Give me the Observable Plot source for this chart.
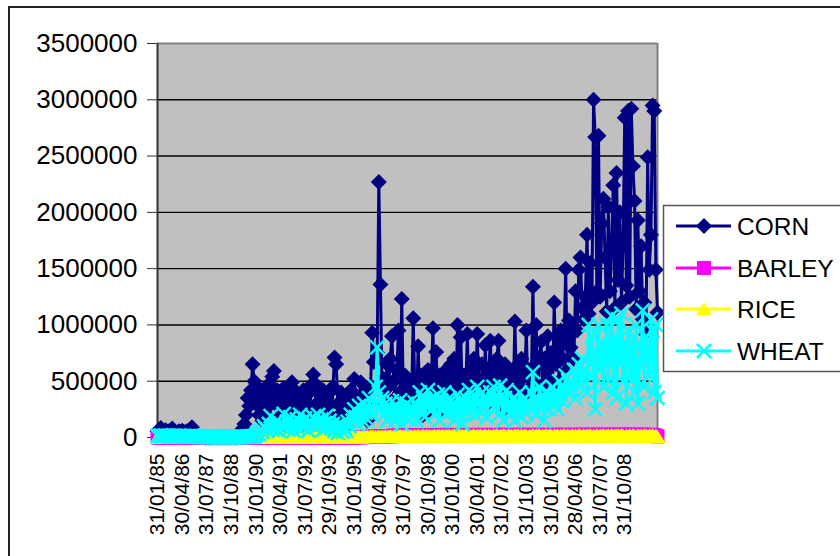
<!DOCTYPE html>
<html><head><meta charset="utf-8">
<script src="https://cdn.jsdelivr.net/npm/d3@7"></script>
<script src="https://cdn.jsdelivr.net/npm/@observablehq/plot@0.6"></script>
<style>
body{margin:0;background:#fff;}
#chart{position:relative;width:840px;height:556px;overflow:hidden;font-family:"Liberation Sans",Arial,sans-serif;}
#chart svg{position:absolute;left:0;top:0;}
</style></head><body><div id="chart"></div>
<script>
// Monthly observations, Jan 1985 (index 0) to Jun 2010 (index 305)
const tickLabels = ["31/01/85","30/04/86","31/07/87","31/10/88","31/01/90","30/04/91","31/07/92","29/10/93","31/01/95","30/04/96","31/07/97","30/10/98","31/01/00","30/04/01","31/07/02","31/10/03","31/01/05","28/04/06","31/07/07","31/10/08"];
const seriesNames = ["CORN","BARLEY","RICE","WHEAT"];
const yTickValues = [0,500000,1000000,1500000,2000000,2500000,3000000,3500000];

const CORN = [
55000,60000,85000,50000,40000,65000,45000,55000,60000,80000,50000,45000,
40000,55000,45000,60000,50000,45000,55000,60000,50000,90000,45000,30000,
15000,8000,5000,3000,2000,0,0,0,0,0,0,0,
0,0,0,0,0,0,0,0,0,0,0,0,
0,0,10000,30000,80000,120000,200000,350000,280000,420000,650000,500000,
300000,450000,200000,380000,150000,420000,250000,460000,180000,350000,540000,590000,
300000,420000,180000,380000,250000,440000,200000,300000,380000,260000,490000,350000,
200000,400000,150000,350000,280000,420000,180000,300000,390000,250000,470000,560000,
480000,300000,150000,380000,220000,420000,160000,350000,280000,400000,180000,450000,
710000,650000,300000,200000,400000,150000,350000,100000,300000,250000,420000,180000,
520000,300000,200000,350000,490000,250000,180000,400000,150000,300000,450000,930000,
670000,680000,750000,2270000,1360000,400000,520000,300000,650000,450000,700000,900000,
500000,350000,600000,950000,400000,1230000,300000,550000,450000,250000,500000,350000,
1060000,400000,250000,810000,350000,550000,200000,450000,300000,600000,250000,500000,
970000,400000,760000,300000,550000,250000,450000,350000,600000,300000,500000,650000,
400000,700000,300000,1000000,450000,890000,300000,550000,400000,920000,300000,600000,
450000,700000,350000,920000,500000,300000,650000,400000,820000,300000,550000,860000,
450000,600000,300000,700000,860000,350000,550000,250000,650000,400000,600000,350000,
500000,350000,1030000,450000,650000,300000,700000,400000,550000,950000,350000,600000,
450000,1340000,500000,1000000,400000,710000,850000,350000,700000,450000,900000,500000,
750000,450000,1200000,650000,900000,500000,950000,700000,850000,1500000,600000,1040000,
800000,1000000,700000,1300000,950000,1490000,1600000,1150000,1050000,1250000,1800000,1100000,
1550000,1200000,3000000,2670000,1300000,2680000,1250000,1900000,2120000,1600000,1120000,2050000,
1300000,1700000,2240000,1150000,2350000,1400000,2000000,1200000,1700000,2840000,1350000,2900000,
1250000,2920000,2410000,2100000,1140000,1930000,1300000,1700000,1050000,1200000,920000,2490000,
1490000,1800000,2950000,2900000,1490000,1110000
];

const BARLEY = [
0,0,0,0,0,0,0,0,0,0,0,0,
0,0,0,0,0,0,0,0,0,0,0,0,
0,0,0,0,0,0,0,0,0,0,0,0,
0,0,0,0,0,0,0,0,0,0,0,0,
0,0,0,0,0,0,0,0,0,0,0,0,
0,0,0,0,0,0,0,0,0,0,0,0,
0,0,0,0,0,0,0,0,0,0,0,0,
0,0,0,0,0,0,0,0,0,0,0,0,
0,0,0,0,0,0,0,0,0,0,0,0,
0,0,0,0,0,0,0,0,0,0,0,0,
2000,3000,1000,4000,3000,5000,3000,4000,6000,4000,5000,7000,
6000,8000,7000,10000,8000,11000,9000,12000,10000,13000,11000,14000,
15000,18000,13000,19000,16000,20000,14000,18000,17000,20000,15000,19000,
18000,21000,16000,19000,22000,17000,20000,18000,23000,17000,21000,19000,
19000,22000,17000,20000,23000,18000,21000,19000,24000,17000,22000,20000,
21000,18000,23000,19000,22000,17000,24000,20000,19000,23000,18000,21000,
20000,23000,19000,22000,18000,24000,21000,19000,23000,20000,22000,17000,
22000,19000,24000,20000,23000,18000,21000,25000,19000,22000,20000,23000,
19000,23000,21000,24000,18000,22000,20000,25000,21000,19000,23000,20000,
24000,20000,22000,19000,25000,21000,23000,18000,24000,20000,22000,21000,
21000,24000,19000,23000,20000,25000,22000,19000,24000,21000,23000,20000,
23000,20000,25000,21000,24000,19000,22000,26000,20000,23000,21000,24000,
22000,25000,20000,24000,21000,26000,23000,19000,25000,22000,24000,20000,
24000,21000,26000,22000,25000,20000,23000,27000,21000,24000,22000,25000,
23000,26000,21000,25000,22000,24000,20000,26000,23000,21000,25000,19000,
22000,24000,19000,23000,15000,10000
];

const RICE = [
0,0,0,0,0,0,0,0,0,0,0,0,
0,0,0,0,0,0,0,0,0,0,0,0,
0,0,0,0,0,0,0,0,0,0,0,0,
0,0,0,0,0,0,0,0,0,0,0,0,
0,0,0,0,0,0,0,0,0,0,0,0,
0,0,0,0,0,0,0,0,0,0,0,0,
0,0,0,0,0,1000,0,0,2000,0,1000,0,
1000,0,2000,1000,3000,0,2000,3000,1000,4000,2000,3000,
2000,4000,1000,3000,5000,2000,4000,6000,3000,5000,2000,6000,
3000,6000,4000,7000,3000,8000,5000,7000,4000,9000,6000,8000,
5000,9000,6000,10000,4000,11000,7000,9000,12000,6000,10000,13000,
8000,12000,6000,14000,9000,13000,7000,15000,10000,12000,16000,9000,
11000,16000,8000,14000,17000,10000,15000,12000,18000,9000,16000,13000,
10000,17000,12000,19000,8000,16000,20000,11000,18000,14000,21000,12000,
15000,20000,10000,18000,22000,13000,19000,9000,21000,16000,23000,12000,
17000,22000,10000,20000,24000,14000,21000,8000,23000,16000,25000,12000,
18000,24000,9000,21000,14000,25000,7000,20000,23000,12000,22000,16000,
10000,23000,17000,25000,8000,21000,13000,24000,19000,6000,22000,15000,
20000,11000,24000,16000,25000,9000,22000,14000,23000,18000,7000,21000,
13000,25000,10000,22000,17000,24000,8000,20000,15000,26000,12000,23000,
19000,9000,24000,14000,25000,11000,21000,16000,26000,7000,22000,18000,
12000,25000,15000,23000,8000,26000,19000,10000,24000,14000,22000,17000,
25000,11000,21000,16000,27000,9000,23000,18000,26000,13000,20000,24000,
14000,26000,10000,22000,17000,25000,12000,27000,19000,8000,23000,15000,
24000,13000,26000,18000,9000,25000,16000,22000,11000,27000,20000,14000,
23000,17000,26000,12000,21000,8000
];

const WHEAT = [
15000,12000,18000,10000,14000,16000,12000,15000,10000,13000,17000,12000,
10000,14000,12000,9000,15000,11000,8000,12000,10000,14000,9000,7000,
5000,8000,6000,4000,7000,5000,3000,6000,4000,5000,3000,4000,
3000,5000,2000,4000,3000,6000,2000,4000,3000,5000,2000,3000,
4000,2000,5000,3000,6000,4000,8000,5000,10000,7000,12000,9000,
20000,40000,30000,60000,50000,100000,80000,60000,120000,190000,70000,100000,
80000,150000,60000,120000,100000,210000,90000,140000,70000,180000,110000,60000,
100000,160000,80000,200000,130000,90000,170000,110000,60000,150000,120000,180000,
90000,140000,200000,110000,160000,70000,130000,190000,100000,150000,80000,120000,
60000,100000,40000,80000,120000,50000,90000,60000,140000,100000,200000,150000,
250000,180000,120000,280000,200000,150000,300000,220000,160000,350000,250000,200000,
300000,450000,800000,400000,250000,350000,200000,300000,150000,250000,180000,320000,
220000,150000,280000,200000,330000,120000,250000,180000,300000,230000,160000,270000,
200000,310000,150000,260000,400000,220000,350000,180000,280000,420000,300000,250000,
350000,200000,300000,380000,150000,330000,250000,400000,200000,300000,350000,230000,
300000,150000,250000,380000,200000,330000,120000,280000,350000,230000,420000,300000,
250000,380000,200000,450000,300000,220000,400000,280000,350000,180000,320000,400000,
300000,450000,250000,380000,200000,460000,320000,150000,350000,420000,250000,300000,
200000,350000,150000,300000,250000,400000,180000,280000,350000,220000,300000,250000,
400000,580000,350000,200000,300000,450000,280000,380000,150000,320000,400000,250000,
350000,450000,300000,400000,250000,500000,380000,320000,450000,550000,400000,480000,
500000,420000,600000,350000,550000,650000,450000,700000,500000,600000,400000,1000000,
650000,900000,550000,250000,750000,1000000,600000,850000,450000,700000,1000000,500000,
800000,1080000,400000,900000,350000,1050000,650000,1100000,500000,850000,300000,950000,
750000,500000,880000,400000,1000000,300000,650000,800000,1130000,450000,900000,750000,
550000,1050000,950000,400000,1000000,350000
];

// ---- marker shapes (Excel-like, centred on their bounding box)
const symDiamond = {draw(c){ const h=8; c.moveTo(0,-h); c.lineTo(h,0); c.lineTo(0,h); c.lineTo(-h,0); c.closePath(); }};
const symSquare = {draw(c){ const h=7; c.moveTo(-h,-h); c.lineTo(h,-h); c.lineTo(h,h); c.lineTo(-h,h); c.closePath(); }};
const symTriangle = {draw(c){ c.moveTo(0,-6.5); c.lineTo(8,6.5); c.lineTo(-8,6.5); c.closePath(); }};
const symTimes = {draw(c){ const h=7; c.moveTo(-h,-h); c.lineTo(h,h); c.moveTo(h,-h); c.lineTo(-h,h); }};

const series = [
  {name: seriesNames[0], values: CORN,   color: "#000080", sym: symDiamond, filled: true},
  {name: seriesNames[1], values: BARLEY, color: "#ff00ff", sym: symSquare,  filled: true},
  {name: seriesNames[2], values: RICE,   color: "#ffff00", sym: symTriangle, filled: true},
  {name: seriesNames[3], values: WHEAT,  color: "#00ffff", sym: symTimes,   filled: false}
];
const nPts = CORN.length;
const tickIdx = tickLabels.map((_, k) => k * 15);

const seriesMarks = series.flatMap(s => {
  const rows = s.values.map((v, i) => ({i, v}));
  return [
    Plot.line(rows, {x: "i", y: "v", stroke: s.color, strokeWidth: 3, strokeLinejoin: "round"}),
    s.filled
      ? Plot.dot(rows, {x: "i", y: "v", symbol: s.sym, r: 5, fill: s.color, stroke: "none"})
      : Plot.dot(rows, {x: "i", y: "v", symbol: s.sym, r: 5, fill: "none", stroke: s.color, strokeWidth: 2.5})
  ];
});

const chart = Plot.plot({
  width: 840, height: 556,
  marginLeft: 157, marginRight: 183, marginTop: 43, marginBottom: 119,
  style: {background: "#fff", fontFamily: "'Liberation Sans', Arial, sans-serif", color: "#000"},
  x: {domain: [0, nPts - 1]},
  y: {domain: [0, 3500000]},
  marks: [
    Plot.frame({fill: "#c0c0c0", stroke: null}),
    Plot.ruleY(yTickValues.slice(1, -1), {stroke: "#000", strokeWidth: 1.4}),
    Plot.ruleY([3500000], {stroke: "#808080", strokeWidth: 2}),
    Plot.ruleX([nPts - 1], {stroke: "#808080", strokeWidth: 2}),
    Plot.ruleX([0], {stroke: "#333", strokeWidth: 2}),
    Plot.ruleY([0], {stroke: "#333", strokeWidth: 2}),
    Plot.axisY({ticks: yTickValues, tickSize: 10, tickPadding: 10, fontSize: 26, label: null,
                tickFormat: d => String(d), stroke: "#333"}),
    Plot.axisX({ticks: tickIdx, tickFormat: i => tickLabels[i / 15], tickRotate: -90,
                tickSize: 0, tickPadding: 16, fontSize: 21, label: null}),
    ...seriesMarks
  ]
});
const root = document.getElementById("chart");
root.appendChild(chart);

// ---- outer border and legend (overlay)
const ov = d3.select(root).append("svg").attr("width", 840).attr("height", 556)
  .style("pointer-events", "none");
ov.append("rect").attr("x", 9).attr("y", 7).attr("width", 845).attr("height", 560)
  .attr("fill", "none").attr("stroke", "#222").attr("stroke-width", 2);
ov.append("rect").attr("x", 663.5).attr("y", 205.5).attr("width", 190).attr("height", 166)
  .attr("fill", "#fff").attr("stroke", "#555").attr("stroke-width", 1.5);
const legY = [226, 268, 309, 351];
series.forEach((s, k) => {
  const g = ov.append("g").attr("transform", `translate(0,${legY[k]})`);
  g.append("line").attr("x1", 676).attr("x2", 731).attr("y1", 0).attr("y2", 0)
    .attr("stroke", s.color).attr("stroke-width", 3);
  const p = d3.path(); s.sym.draw(p);
  g.append("path").attr("d", p.toString()).attr("transform", "translate(704,0)")
    .attr("fill", s.filled ? s.color : "none").attr("stroke", s.filled ? "none" : s.color)
    .attr("stroke-width", 2.5);
  g.append("text").attr("x", 737).attr("dy", "0.36em").attr("font-size", 24.5)
    .attr("font-family", "'Liberation Sans', Arial, sans-serif").attr("fill", "#000").text(s.name);
});
</script></body></html>
